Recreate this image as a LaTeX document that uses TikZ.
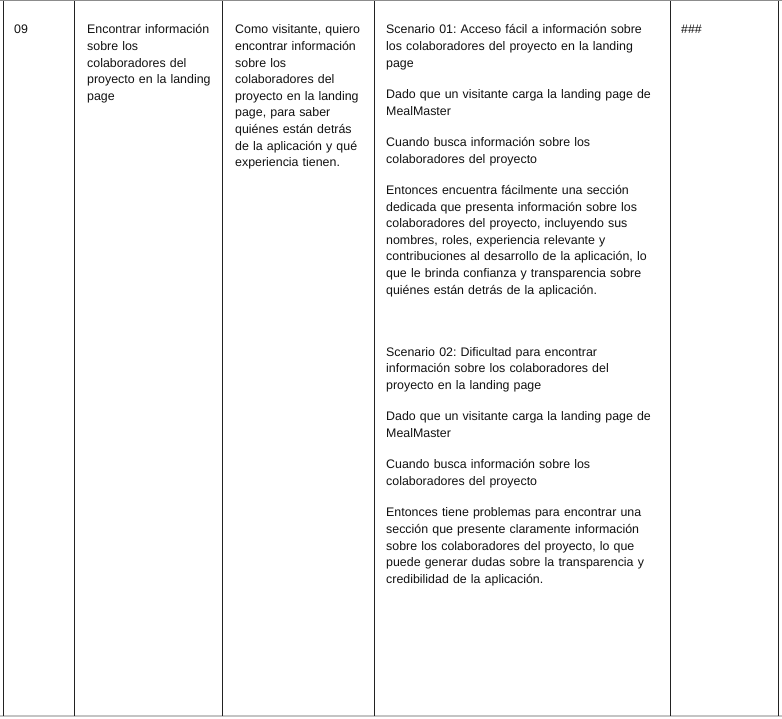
\documentclass[tikz,border=0pt]{standalone}
\usepackage{fontspec}
\setmainfont{Liberation Sans}
\frenchspacing
\definecolor{txt}{HTML}{111111}
\definecolor{rule}{HTML}{222222}
\definecolor{topgray}{HTML}{8C8C8C}
\definecolor{botgray}{HTML}{C4C4C4}
\begin{document}
\begin{tikzpicture}[x=1pt,y=-1pt,
  cell/.style={anchor=base west,inner sep=0pt,align=left,text=txt,
    font=\fontsize{12.4}{16.6}\selectfont\frenchspacing},
  vrule/.style={draw=rule,line width=1pt},
]
\useasboundingbox (0,0) rectangle (782,719);
\fill[white] (0,0) rectangle (782,719);
% borders
\coordinate (tl) at (0,1);
\coordinate (tr) at (782,1);
\coordinate (bl) at (0,716);
\coordinate (br) at (782,716);
\draw[topgray,line width=1pt] (tl) -- (tr);
\draw[botgray,line width=1.2pt] (bl) -- (br);
\foreach \x/\n in {3/a,74/b,222/c,374/d,670/e,778.5/f}{
  \coordinate (t\n) at (\x,1.5);
  \coordinate (b\n) at (\x,715.5);
  \draw[vrule] (t\n) -- (b\n);
}
% cells
\node[cell,text width=50pt] (c1) at (14,34) {09};
\node[cell,text width=133pt] (c2) at (87,34) {Encontrar información\\sobre los\\colaboradores del\\proyecto en la landing\\page};
\node[cell,text width=135pt] (c3) at (235,34) {Como visitante, quiero\\encontrar información\\sobre los\\colaboradores del\\proyecto en la landing\\page, para saber\\quiénes están detrás\\de la aplicación y qué\\experiencia tienen.};
\node[cell,text width=280pt] (c4) at (386,34) {Scenario 01: Acceso fácil a información sobre\\los colaboradores del proyecto en la landing\\page\\[14.8pt]
Dado que un visitante carga la landing page de\\MealMaster\\[14.8pt]
Cuando busca información sobre los\\colaboradores del proyecto\\[14.8pt]
Entonces encuentra fácilmente una sección\\dedicada que presenta información sobre los\\colaboradores del proyecto, incluyendo sus\\nombres, roles, experiencia relevante y\\contribuciones al desarrollo de la aplicación, lo\\que le brinda confianza y transparencia sobre\\quiénes están detrás de la aplicación.\\[45.6pt]
Scenario 02: Dificultad para encontrar\\información sobre los colaboradores del\\proyecto en la landing page\\[14.8pt]
Dado que un visitante carga la landing page de\\MealMaster\\[14.8pt]
Cuando busca información sobre los\\colaboradores del proyecto\\[14.8pt]
Entonces tiene problemas para encontrar una\\sección que presente claramente información\\sobre los colaboradores del proyecto, lo que\\puede generar dudas sobre la transparencia y\\credibilidad de la aplicación.};
\node[cell,text width=90pt] (c5) at (681,34) {\#\#\#};
\end{tikzpicture}
\end{document}
